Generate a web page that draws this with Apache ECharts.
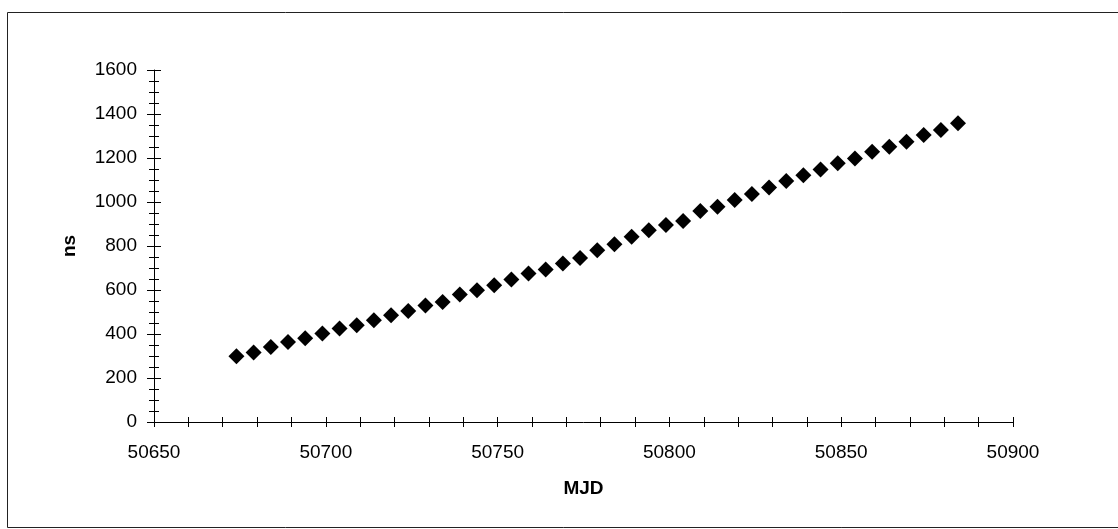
<!DOCTYPE html>
<html>
<head>
<meta charset="utf-8">
<script src="https://cdn.jsdelivr.net/npm/echarts@6/dist/echarts.min.js"></script>
<style>
html,body{margin:0;padding:0;background:#fff;}
#chart{width:1118px;height:529px;}
</style>
</head>
<body>
<div id="chart"></div>
<script>
// Data
const mjd = [50674,50679,50684,50689,50694,50699,50704,50709,50714,50719,50724,50729,50734,
  50739,50744,50749,50754,50759,50764,50769,50774,50779,50784,50789,50794,50799,50804,50809,50814,
  50819,50824,50829,50834,50839,50844,50849,50854,50859,50864,50869,50874,50879,50884];
const ns = [299,316,341,364,381,402,425,440,463,485,505,530,546,
  580,599,622,648,675,693,720,746,781,808,842,872,895,914,959,978,
  1009,1036,1066,1095,1122,1148,1176,1198,1228,1251,1274,1304,1327,1358];
const xTickLabels = [50650,50700,50750,50800,50850,50900];
const yTickLabels = [0,200,400,600,800,1000,1200,1400,1600];

const points = mjd.map((x, i) => [x, ns[i]]);
const font = 'Liberation Sans, Arial, sans-serif';

const chart = echarts.init(document.getElementById('chart'));
chart.setOption({
  animation: false,
  backgroundColor: '#fff',
  grid: {left: 154, right: 105, top: 70, bottom: 107},
  graphic: [{
    type: 'rect', silent: true, z: -1,
    shape: {x: 7.5, y: 12.5, width: 1120, height: 515},
    style: {fill: 'none', stroke: '#222', lineWidth: 1}
  }],
  xAxis: [{
    type: 'value', min: 50650, max: 50900, interval: 10,
    position: 'bottom',
    name: 'MJD', nameLocation: 'middle', nameGap: 57,
    nameTextStyle: {fontFamily: font, fontWeight: 'bold', fontSize: 19, color: '#000'},
    axisLine: {show: true, onZero: false, lineStyle: {color: '#000', width: 1}},
    axisTick: {show: true, inside: false, length: 5, lineStyle: {color: '#000'}},
    axisLabel: {
      margin: 21, fontFamily: font, fontSize: 19, color: '#000',
      formatter: v => xTickLabels.includes(v) ? String(v) : ''
    },
    splitLine: {show: false}
  }, {
    type: 'value', min: 50650, max: 50900, interval: 10,
    position: 'bottom',
    axisLine: {show: false, onZero: false},
    axisTick: {show: true, inside: true, length: 5, lineStyle: {color: '#000'}},
    axisLabel: {show: false},
    splitLine: {show: false}
  }],
  yAxis: [{
    type: 'value', min: 0, max: 1600, interval: 200,
    position: 'left',
    name: 'ns', nameLocation: 'middle', nameGap: 75, nameRotate: 90,
    nameTextStyle: {fontFamily: font, fontWeight: 'bold', fontSize: 19, color: '#000'},
    axisLine: {show: true, onZero: false, lineStyle: {color: '#000', width: 1}},
    axisTick: {show: true, inside: false, length: 7, lineStyle: {color: '#000'}},
    minorTick: {show: true, splitNumber: 4, length: 5, lineStyle: {color: '#000'}},
    axisLabel: {
      margin: 17, fontFamily: font, fontSize: 19, color: '#000',
      formatter: v => yTickLabels.includes(v) ? String(v) : ''
    },
    splitLine: {show: false}
  }, {
    type: 'value', min: 0, max: 1600, interval: 200,
    position: 'left',
    axisLine: {show: false, onZero: false},
    axisTick: {show: true, inside: true, length: 7, lineStyle: {color: '#000'}},
    minorTick: {show: true, splitNumber: 4, length: 5, lineStyle: {color: '#000'}},
    axisLabel: {show: false},
    splitLine: {show: false}
  }],
  series: [{
    type: 'scatter',
    xAxisIndex: 0, yAxisIndex: 0,
    symbol: 'diamond', symbolSize: 16,
    itemStyle: {color: '#000', opacity: 1},
    data: points
  }]
});
</script>
</body>
</html>
